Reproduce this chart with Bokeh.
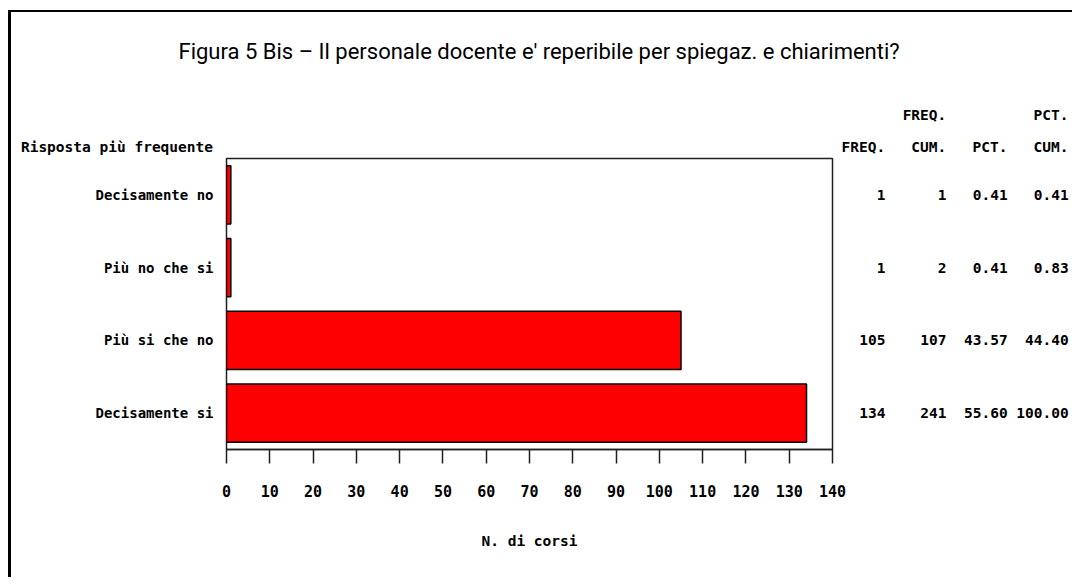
from bokeh.plotting import figure
from bokeh.models import FactorRange, Range1d, ColumnDataSource, FixedTicker, CategoricalAxis, Title
from bokeh.embed import file_html
from bokeh.resources import INLINE

# ---- data ----
categories = ["Decisamente no", "Più no che si", "Più si che no", "Decisamente si"]
freq = [1, 1, 105, 134]
freq_cum = [1, 2, 107, 241]
pct = [0.41, 0.41, 43.57, 55.60]
pct_cum = [0.41, 0.83, 44.40, 100.00]
x_ticks = list(range(0, 141, 10))
header_top = ["", "FREQ.", "", "PCT."]
header_bottom = ["FREQ.", "CUM.", "PCT.", "CUM."]

title_text = "Figura 5 Bis \u2013 Il personale docente e'  reperibile per spiegaz. e chiarimenti?"
y_title = "Risposta più frequente"
x_title = "N. di corsi"

FONT = "Roboto"
MONO = "DejaVu Sans Mono"
MONO_STYLE = "bold"

# ---- layout (canvas pixels) ----
W, H = 1072, 577
FL, FT, FR, FB = 226, 158, 832, 449   # frame edges
TABLE_FS = 14.5
CW = 0.60205 * TABLE_FS               # monospace advance
R = 1068                              # right edge of the table
col_right = [883, 942, 1003, R]       # right edge of each table column
NCH = 25                              # characters per table row


def mono_line(items, n=None):
    """Place texts so that each ends at a given pixel, using a monospace font."""
    ends = [(t, int(round((R - r) / CW))) for t, r in items if t]
    if n is None:
        n = max(len(t) + k for t, k in ends)
    chars = ["\u00a0"] * n
    for t, k in ends:
        e = n - k
        chars[e - len(t):e] = list(t)
    return "".join(chars)


src = ColumnDataSource(dict(cat=categories, freq=freq))

p = figure(width=W, height=H, output_backend="svg", toolbar_location=None,
           y_range=FactorRange(factors=categories[::-1]), x_range=Range1d(0, 140),
           min_border_left=FL, min_border_right=W - FR, min_border_top=FT, min_border_bottom=H - FB)

p.border_fill_color = None
p.background_fill_color = "white"
p.outline_line_color = "#202020"
p.outline_line_width = 1.5
p.xgrid.grid_line_color = None
p.ygrid.grid_line_color = None
p.styles = {
    "background": "linear-gradient(#000,#000) 8px 10px / 100% 2px no-repeat, "
                  "linear-gradient(#000,#000) 8px 10px / 3px 100% no-repeat, white",
}

p.hbar(y="cat", right="freq", left=0, height=0.8, source=src,
       fill_color="#ff0000", line_color="black", line_width=1.5)

# x axis
xa = p.xaxis[0]
xa.ticker = FixedTicker(ticks=x_ticks)
xa.major_tick_out = 14
xa.major_tick_in = 0
xa.minor_tick_out = 0
xa.minor_tick_in = 0
xa.axis_line_color = "#202020"
xa.axis_line_width = 1.5
xa.major_tick_line_color = "#202020"
xa.major_tick_line_width = 1.5
xa.major_label_standoff = 21
xa.major_label_text_font = MONO
xa.major_label_text_font_style = MONO_STYLE
xa.major_label_text_font_size = "15px"
xa.major_label_text_color = "black"
xa.axis_label = x_title
xa.axis_label_standoff = 33
xa.axis_label_text_font = MONO
xa.axis_label_text_font_size = "14.5px"
xa.axis_label_text_font_style = MONO_STYLE
xa.axis_label_text_color = "black"

# y axis (categories)
ya = p.yaxis[0]
ya.major_tick_out = 0
ya.major_tick_in = 0
ya.minor_tick_out = 0
ya.axis_line_color = None
ya.major_label_standoff = 13
ya.major_label_text_font = MONO
ya.major_label_text_font_style = MONO_STYLE
ya.major_label_text_font_size = "14px"
ya.major_label_text_color = "black"

# statistics table: a right-hand categorical axis on a parallel factor range whose
# factors are the table rows (one row per category, same order)
row_text = []
for a, b, d, e in zip(freq, freq_cum, pct, pct_cum):
    vals = [str(a), str(b), "%.2f" % d, "%.2f" % e]
    row_text.append(mono_line(list(zip(vals, col_right)), n=NCH))
p.extra_y_ranges = {"table": FactorRange(factors=row_text[::-1])}
ta = CategoricalAxis(y_range_name="table")
ta.major_tick_out = 0
ta.major_tick_in = 0
ta.minor_tick_out = 0
ta.axis_line_color = None
ta.major_label_standoff = int(round(R - NCH * CW - FR))
ta.major_label_text_font = MONO
ta.major_label_text_font_style = MONO_STYLE
ta.major_label_text_font_size = "%gpx" % TABLE_FS
ta.major_label_text_color = "black"
p.add_layout(ta, "right")

# header rows and title, stacked above the frame (nearest first)
low = mono_line([(y_title, FL - 13)] + list(zip(header_bottom, col_right)))
up = mono_line(list(zip(header_top, col_right)))
p.title = None
p.add_layout(Title(text=low, align="right", offset=-(R - FR), standoff=7, text_font=MONO,
                   text_font_size="%gpx" % TABLE_FS, text_font_style=MONO_STYLE,
                   text_color="black"), "above")
p.add_layout(Title(text=up, align="right", offset=-(R - FR), standoff=22, text_font=MONO,
                   text_font_size="%gpx" % TABLE_FS, text_font_style=MONO_STYLE,
                   text_color="black"), "above")
p.add_layout(Title(text=title_text, align="left", offset=178 - FL, standoff=60, text_font=FONT,
                   text_font_size="22px", text_font_style="normal",
                   text_color="black"), "above")

open("out.html", "w").write(file_html(p, INLINE))
